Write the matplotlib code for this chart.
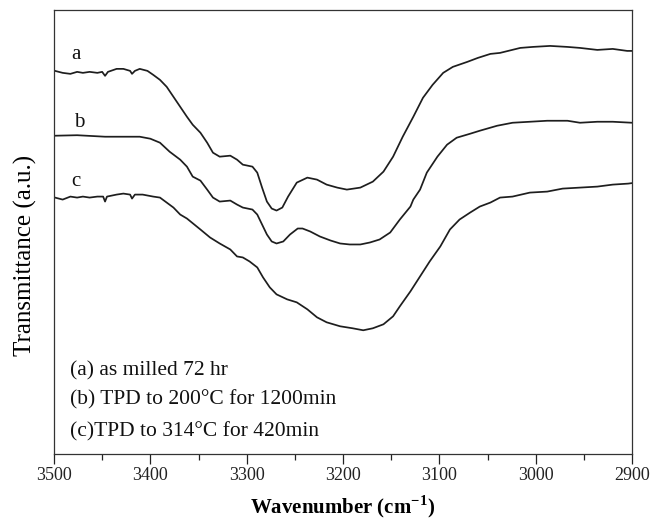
import matplotlib
matplotlib.use("Agg")
import matplotlib.pyplot as plt
from matplotlib.ticker import MultipleLocator

# ---- data (wavenumber cm^-1, transmittance a.u.) ----
wn_a = [3499, 3491, 3483, 3476, 3470, 3463, 3455, 3450, 3447, 3444, 3435, 3428, 3421, 3419, 3416,
        3411, 3403, 3397, 3390, 3383, 3376, 3369, 3362, 3356, 3348, 3341, 3335, 3328, 3317, 3310,
        3304, 3294, 3289, 3284, 3279, 3274, 3269, 3263, 3257, 3248, 3237, 3227, 3217, 3206, 3196,
        3182, 3169, 3158, 3148, 3138, 3127, 3117, 3107, 3096, 3086, 3071, 3060, 3047, 3037, 3016,
        3003, 2985, 2967, 2954, 2936, 2920, 2905, 2900]
tr_a = [3.84, 3.82, 3.81, 3.83, 3.82, 3.83, 3.82, 3.83, 3.79, 3.83, 3.86, 3.86, 3.84, 3.81, 3.84,
        3.86, 3.84, 3.80, 3.75, 3.68, 3.58, 3.48, 3.38, 3.30, 3.22, 3.12, 3.02, 2.98, 2.99, 2.95,
        2.90, 2.88, 2.82, 2.67, 2.53, 2.46, 2.44, 2.47, 2.58, 2.72, 2.77, 2.75, 2.70, 2.67, 2.65,
        2.67, 2.73, 2.83, 2.98, 3.18, 3.38, 3.57, 3.70, 3.82, 3.88, 3.93, 3.97, 4.01, 4.02, 4.07,
        4.08, 4.09, 4.08, 4.07, 4.05, 4.06, 4.04, 4.04]

wn_b = [3499, 3476, 3447, 3411, 3400, 3390, 3380, 3369, 3362, 3356, 3348, 3341, 3335, 3328, 3317,
        3310, 3304, 3294, 3289, 3284, 3279, 3274, 3269, 3262, 3255, 3247, 3242, 3234, 3224, 3213,
        3203, 3193, 3182, 3172, 3162, 3151, 3141, 3130, 3127, 3120, 3113, 3102, 3092, 3082, 3068,
        3058, 3040, 3024, 3006, 2988, 2967, 2954, 2936, 2920, 2900]
tr_b = [3.19, 3.195, 3.18, 3.18, 3.16, 3.12, 3.03, 2.95, 2.88, 2.78, 2.74, 2.65, 2.57, 2.53, 2.54,
        2.50, 2.47, 2.45, 2.40, 2.30, 2.20, 2.13, 2.11, 2.13, 2.20, 2.26, 2.26, 2.23, 2.18, 2.14,
        2.11, 2.10, 2.10, 2.12, 2.15, 2.22, 2.35, 2.48, 2.55, 2.65, 2.82, 2.98, 3.10, 3.17, 3.21,
        3.24, 3.29, 3.32, 3.33, 3.34, 3.34, 3.32, 3.33, 3.33, 3.32]

wn_c = [3499, 3491, 3483, 3476, 3470, 3463, 3455, 3449, 3447, 3445, 3435, 3428, 3421, 3419, 3416,
        3408, 3397, 3390, 3383, 3376, 3369, 3362, 3348, 3338, 3328, 3317, 3310, 3304, 3297, 3289,
        3283, 3276, 3269, 3258, 3248, 3237, 3227, 3217, 3203, 3190, 3179, 3169, 3158, 3148, 3141,
        3130, 3120, 3110, 3099, 3089, 3079, 3068, 3058, 3047, 3037, 3024, 3006, 2988, 2972, 2954,
        2936, 2920, 2904, 2900]
tr_c = [2.57, 2.55, 2.58, 2.57, 2.58, 2.57, 2.58, 2.58, 2.53, 2.58, 2.60, 2.61, 2.60, 2.56, 2.60,
        2.60, 2.58, 2.57, 2.52, 2.47, 2.40, 2.36, 2.25, 2.17, 2.11, 2.05, 1.98, 1.97, 1.93, 1.87,
        1.77, 1.67, 1.60, 1.55, 1.52, 1.45, 1.37, 1.32, 1.28, 1.26, 1.24, 1.26, 1.30, 1.38, 1.48,
        1.63, 1.78, 1.93, 2.08, 2.25, 2.35, 2.42, 2.48, 2.52, 2.57, 2.58, 2.62, 2.63, 2.66, 2.67,
        2.68, 2.70, 2.71, 2.715]

curve_labels = ["a", "b", "c"]
legend_lines = ["(a) as milled 72 hr",
                "(b) TPD to 200\u00b0C for 1200min",
                "(c)TPD to 314\u00b0C for 420min"]
x_ticks = [3500, 3400, 3300, 3200, 3100, 3000, 2900]

plt.rcParams['font.family'] = ['Liberation Serif', 'DejaVu Serif']
plt.rcParams['mathtext.fontset'] = 'custom'
plt.rcParams['mathtext.rm'] = 'Liberation Serif'
plt.rcParams['mathtext.bf'] = 'Liberation Serif:bold'

fig = plt.figure(figsize=(6.51, 5.25), dpi=100)
ax = fig.add_axes([54/651, 71/525, 578/651, 444/525])

col = '#1e1e1e'
for wn, tr in [(wn_a, tr_a), (wn_b, tr_b), (wn_c, tr_c)]:
    ax.plot(wn, tr, color=col, lw=1.25, solid_joinstyle='round')

ax.set_xlim(3500, 2900)
ax.set_ylim(0, 4.45)
ax.set_xticks(x_ticks)
ax.xaxis.set_minor_locator(MultipleLocator(50))
ax.set_yticks([])
ax.tick_params(axis='x', which='major', direction='out', length=7, width=0.9,
               labelsize=13, pad=2, colors='#222222')
ax.tick_params(axis='x', which='minor', direction='out', length=4, width=0.9, colors='#222222')
for s in ax.spines.values():
    s.set_linewidth(0.9)
    s.set_color('#333333')

# curve letters
label_pos = [(3477, 4.00), (3474, 3.32), (3477, 2.73)]
for lab, (x, y) in zip(curve_labels, label_pos):
    ax.text(x, y, lab, fontsize=15, ha='center', va='center', color='#111111')

legend_y = [0.83, 0.54, 0.22]
for t, y in zip(legend_lines, legend_y):
    ax.text(3483, y, t, fontsize=15.5, ha='left', va='center', color='#111111')

ax.set_xlabel(r'Wavenumber (cm$^{\mathbf{-1}}$)', fontsize=15, fontweight='bold', labelpad=7)
ax.set_ylabel('Transmittance (a.u.)', fontsize=18)
ax.yaxis.set_label_coords(-0.029, 0.448)

fig.savefig('out.png', dpi=100)
